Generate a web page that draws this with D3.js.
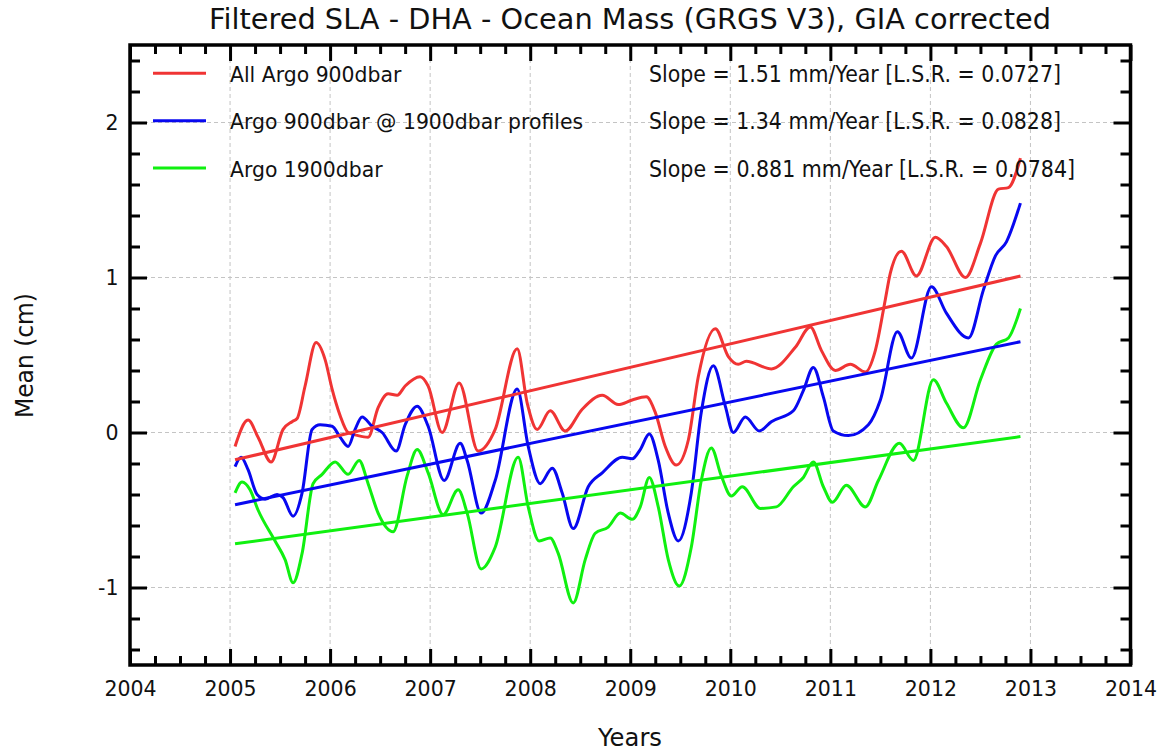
<!DOCTYPE html>
<html>
<head>
<meta charset="utf-8">
<script src="https://cdn.jsdelivr.net/npm/d3@7"></script>
<style>
  html, body { margin: 0; padding: 0; background: #fff; }
  svg { display: block; font-family: "DejaVu Sans", sans-serif; }
</style>
</head>
<body>
<svg id="chart" width="1163" height="751"></svg>
<script>
// Monthly-ish filtered means (cm), year / value pairs
const redYears = [2005.05,2005.18,2005.28,2005.41,2005.53,2005.62,2005.67,2005.75,2005.86,2005.95,2006.02,2006.10,2006.18,2006.28,2006.38,2006.48,2006.58,2006.67,2006.75,2006.90,2006.98,2007.12,2007.29,2007.48,2007.65,2007.87,2007.97,2008.07,2008.20,2008.35,2008.52,2008.72,2008.88,2009.02,2009.16,2009.25,2009.35,2009.46,2009.58,2009.68,2009.85,2009.98,2010.08,2010.16,2010.41,2010.65,2010.80,2010.91,2011.05,2011.20,2011.35,2011.45,2011.55,2011.60,2011.71,2011.86,2012.05,2012.16,2012.35,2012.50,2012.68,2012.78,2012.90];
const redValues = [-0.09,0.08,-0.03,-0.19,0.02,0.07,0.09,0.30,0.58,0.47,0.28,0.11,0.00,-0.02,-0.03,0.16,0.25,0.24,0.30,0.36,0.30,0.00,0.32,-0.12,0.02,0.54,0.19,0.02,0.14,0.01,0.15,0.24,0.18,0.21,0.23,0.13,-0.09,-0.21,-0.05,0.36,0.67,0.49,0.44,0.46,0.41,0.55,0.68,0.53,0.40,0.44,0.39,0.53,0.86,1.03,1.17,1.01,1.26,1.20,1.00,1.22,1.57,1.58,1.77];

const blueYears = [2005.05,2005.11,2005.18,2005.27,2005.35,2005.47,2005.53,2005.63,2005.72,2005.82,2005.90,2006.02,2006.10,2006.18,2006.25,2006.32,2006.42,2006.52,2006.66,2006.75,2006.87,2006.98,2007.14,2007.30,2007.37,2007.51,2007.65,2007.87,2007.98,2008.10,2008.22,2008.32,2008.43,2008.58,2008.72,2008.92,2009.02,2009.10,2009.19,2009.28,2009.38,2009.48,2009.61,2009.71,2009.83,2009.95,2010.03,2010.15,2010.29,2010.41,2010.63,2010.73,2010.83,2010.93,2011.03,2011.18,2011.38,2011.50,2011.67,2011.81,2012.01,2012.16,2012.38,2012.53,2012.65,2012.76,2012.90];
const blueValues = [-0.22,-0.16,-0.24,-0.40,-0.43,-0.40,-0.42,-0.54,-0.39,0.02,0.05,0.04,-0.03,-0.09,0.02,0.10,0.04,0.00,-0.12,0.05,0.17,0.04,-0.31,-0.07,-0.18,-0.52,-0.31,0.28,-0.09,-0.33,-0.23,-0.39,-0.62,-0.35,-0.26,-0.16,-0.17,-0.11,-0.01,-0.18,-0.52,-0.70,-0.39,0.13,0.43,0.17,0.00,0.10,0.01,0.07,0.14,0.27,0.42,0.23,0.01,-0.02,0.05,0.21,0.65,0.48,0.94,0.77,0.61,0.92,1.14,1.23,1.48];

const greenYears = [2005.05,2005.12,2005.20,2005.28,2005.45,2005.55,2005.63,2005.72,2005.83,2005.92,2006.05,2006.18,2006.29,2006.38,2006.48,2006.63,2006.77,2006.87,2006.98,2007.13,2007.28,2007.37,2007.51,2007.65,2007.88,2007.98,2008.09,2008.20,2008.28,2008.43,2008.55,2008.65,2008.78,2008.90,2009.02,2009.10,2009.19,2009.28,2009.38,2009.49,2009.61,2009.71,2009.81,2009.91,2010.01,2010.12,2010.30,2010.46,2010.63,2010.73,2010.83,2010.93,2011.02,2011.16,2011.35,2011.48,2011.69,2011.83,2012.03,2012.16,2012.33,2012.50,2012.66,2012.78,2012.90];
const greenValues = [-0.39,-0.32,-0.37,-0.50,-0.70,-0.82,-0.97,-0.78,-0.33,-0.27,-0.19,-0.27,-0.18,-0.33,-0.52,-0.64,-0.28,-0.11,-0.26,-0.53,-0.37,-0.52,-0.88,-0.74,-0.16,-0.48,-0.70,-0.68,-0.78,-1.10,-0.82,-0.65,-0.61,-0.52,-0.56,-0.48,-0.29,-0.48,-0.82,-0.99,-0.74,-0.31,-0.10,-0.28,-0.41,-0.35,-0.49,-0.48,-0.35,-0.29,-0.19,-0.35,-0.45,-0.34,-0.48,-0.31,-0.07,-0.18,0.34,0.19,0.03,0.34,0.57,0.61,0.80];

// Linear fits: slope in mm/year, fitted value (cm) at the first epoch
const seriesNames = ["All Argo 900dbar", "Argo 900dbar @ 1900dbar profiles", "Argo 1900dbar"];
const seriesColors = ["#f03434", "#0808f0", "#10f010"];
const slopes = [1.51, 1.34, 0.881];
const lsr = ["0.0727", "0.0828", "0.0784"];
const fitStart = [-0.176, -0.466, -0.718];
const fitSpan = [2005.05, 2012.90];

const xTicks = [2004, 2005, 2006, 2007, 2008, 2009, 2010, 2011, 2012, 2013, 2014];
const yTicks = [-1, 0, 1, 2];

const svg = d3.select("#chart");
const L = 130, R = 1130.5, T = 45, B = 665;

const x = d3.scaleLinear().domain([2004, 2014]).range([L, R]);
const y = d3.scaleLinear().domain([-1.5, 2.5]).range([B, T]);

// dashed grid
const grid = svg.append("g").attr("stroke", "#c4c4c4").attr("stroke-width", 1).attr("stroke-dasharray", "4,3");
grid.selectAll("line.gx").data(xTicks.slice(1, -1)).join("line")
  .attr("x1", d => x(d)).attr("x2", d => x(d)).attr("y1", T).attr("y2", B);
grid.selectAll("line.gy").data(yTicks).join("line")
  .attr("x1", L).attr("x2", R).attr("y1", d => y(d)).attr("y2", d => y(d));

// series
const line = d3.line().x(d => x(d[0])).y(d => y(d[1])).curve(d3.curveMonotoneX);
const series = [
  d3.zip(redYears, redValues),
  d3.zip(blueYears, blueValues),
  d3.zip(greenYears, greenValues)
];
const plot = svg.append("g");
series.forEach((s, i) => {
  plot.append("path").datum(s).attr("d", line)
    .attr("fill", "none").attr("stroke", seriesColors[i]).attr("stroke-width", 3)
    .attr("stroke-linejoin", "round");
});
// trend lines
slopes.forEach((sl, i) => {
  const pts = fitSpan.map(t => [t, fitStart[i] + sl / 10 * (t - fitSpan[0])]);
  plot.append("path").datum(pts).attr("d", d3.line().x(d => x(d[0])).y(d => y(d[1])))
    .attr("fill", "none").attr("stroke", seriesColors[i]).attr("stroke-width", 3);
});

// axes with inward ticks on all four sides
const xMinor = d3.range(2004, 2014.001, 0.25).filter(v => Math.abs(v - Math.round(v)) > 1e-6);
const yMinor = d3.range(-1.4, 2.45, 0.2).filter(v => Math.abs(v - Math.round(v)) > 1e-6);
const plain = d => String(d);

function styleAxis(g) {
  g.select(".domain").remove();
  g.selectAll(".tick line").attr("stroke", "#000").attr("stroke-width", 3);
  g.selectAll(".tick text").attr("font-family", "DejaVu Sans").attr("font-size", 20.5).attr("fill", "#111");
}

svg.append("g").attr("transform", `translate(0,${B})`)
  .call(d3.axisBottom(x).tickValues(xMinor).tickSize(-9).tickFormat("")).call(styleAxis);
svg.append("g").attr("transform", `translate(0,${B})`)
  .call(d3.axisBottom(x).tickValues(xTicks).tickSize(-16).tickPadding(16).tickFormat(plain)).call(styleAxis);
svg.append("g").attr("transform", `translate(0,${T})`)
  .call(d3.axisTop(x).tickValues(xMinor).tickSize(-9).tickFormat("")).call(styleAxis);
svg.append("g").attr("transform", `translate(0,${T})`)
  .call(d3.axisTop(x).tickValues(xTicks).tickSize(-16).tickFormat("")).call(styleAxis);

svg.append("g").attr("transform", `translate(${L},0)`)
  .call(d3.axisLeft(y).tickValues(yMinor).tickSize(-10).tickFormat("")).call(styleAxis);
svg.append("g").attr("transform", `translate(${L},0)`)
  .call(d3.axisLeft(y).tickValues(yTicks).tickSize(-17).tickPadding(11.5).tickFormat(plain)).call(styleAxis);
svg.append("g").attr("transform", `translate(${R},0)`)
  .call(d3.axisRight(y).tickValues(yMinor).tickSize(-10).tickFormat("")).call(styleAxis);
svg.append("g").attr("transform", `translate(${R},0)`)
  .call(d3.axisRight(y).tickValues(yTicks).tickSize(-17).tickFormat("")).call(styleAxis);

// frame
svg.append("rect").attr("x", L).attr("y", T).attr("width", R - L).attr("height", B - T)
  .attr("fill", "none").attr("stroke", "#000").attr("stroke-width", 3.5);

// legend and fit statistics
const legY = [73.3, 120.7, 168];
const slopeW = [412, 412, 426];
seriesNames.forEach((name, i) => {
  svg.append("line").attr("x1", 153).attr("x2", 206).attr("y1", legY[i]).attr("y2", legY[i])
    .attr("stroke", seriesColors[i]).attr("stroke-width", 3);
  svg.append("text").attr("x", 230).attr("y", legY[i] + 8.5)
    .attr("font-size", 20.4).attr("fill", "#111").text(name);
  svg.append("text").attr("x", 649).attr("y", legY[i] + 8.5)
    .attr("font-size", 22.5).attr("fill", "#111")
    .attr("textLength", slopeW[i]).attr("lengthAdjust", "spacingAndGlyphs")
    .text(`Slope = ${slopes[i]} mm/Year [L.S.R. = ${lsr[i]}]`);
});

// titles
svg.append("text").attr("x", 209).attr("y", 29).attr("font-size", 28).attr("fill", "#111")
  .attr("textLength", 842).attr("lengthAdjust", "spacingAndGlyphs")
  .text("Filtered SLA - DHA - Ocean Mass (GRGS V3), GIA corrected");
svg.append("text").attr("x", 598).attr("y", 746).attr("font-size", 25).attr("fill", "#111")
  .attr("textLength", 64).attr("lengthAdjust", "spacingAndGlyphs").text("Years");
svg.append("text").attr("transform", `translate(33,${355.5 + 62.5}) rotate(-90)`)
  .attr("font-size", 25).attr("fill", "#111")
  .attr("textLength", 125).attr("lengthAdjust", "spacingAndGlyphs").text("Mean (cm)");
</script>
</body>
</html>
